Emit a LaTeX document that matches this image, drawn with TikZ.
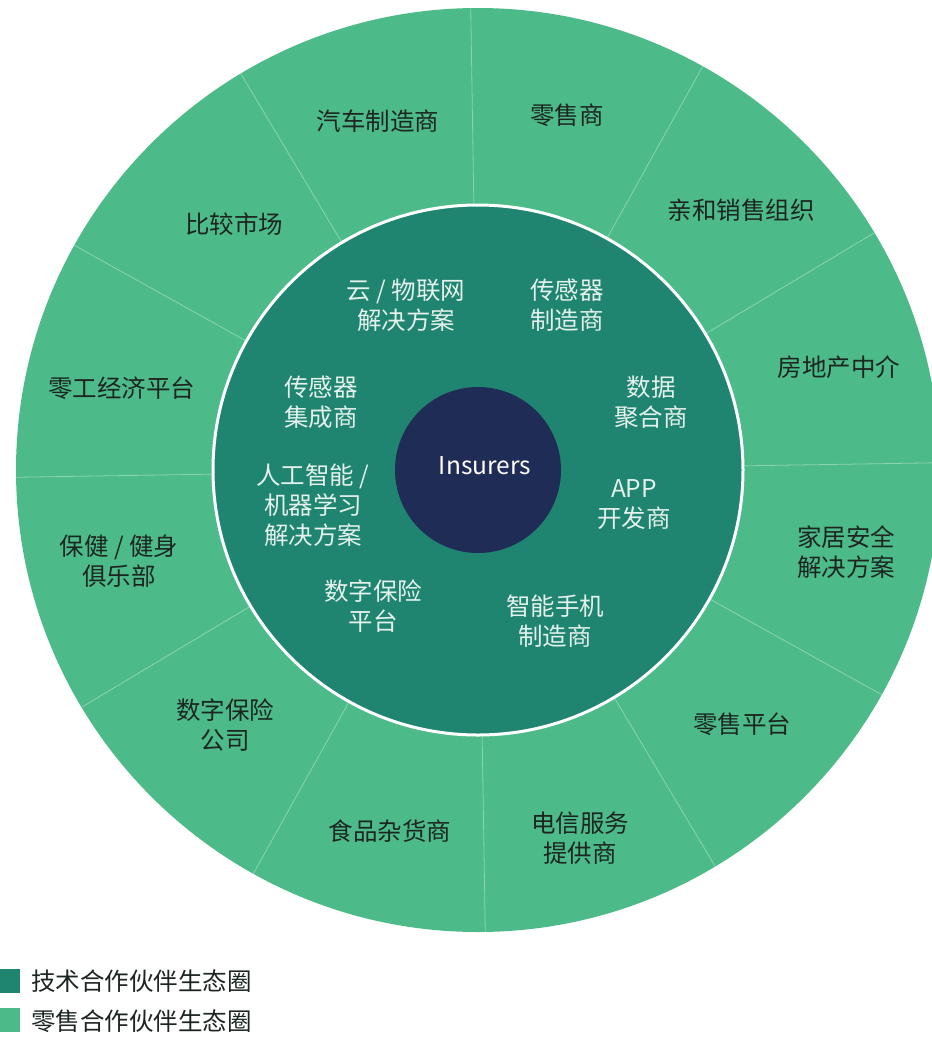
\documentclass[tikz,border=0pt]{standalone}
\usepackage{fontspec}
\setmainfont{Noto Sans CJK SC}
\definecolor{outerg}{HTML}{4CBB89}
\definecolor{innert}{HTML}{1F8570}
\definecolor{navyc}{HTML}{1F2C55}
\definecolor{darktxt}{HTML}{1C2520}
\definecolor{lighttxt}{HTML}{E4F1EC}
\begin{document}
\begin{tikzpicture}[x=1pt,y=-1pt,
  lab/.style={font=\fontsize{24.5}{30}\selectfont, align=center, inner sep=0pt},
  outerlab/.style={lab, text=darktxt},
  innerlab/.style={lab, text=lighttxt},
  divider/.style={draw=white, draw opacity=0.35, line width=0.8pt},
  legbox/.style={minimum width=20pt, minimum height=24pt, inner sep=0pt, anchor=north west}]
\useasboundingbox (0,0) rectangle (932,1037);
\clip (0,0) rectangle (932,1037);
\coordinate (c) at (478,470);
% outer ring
\fill[outerg] (c) circle[radius=462];
\foreach \a in {-0.9,29.1,59.1,89.1,119.1,149.1,179.1,209.1,239.1,269.1,299.1,329.1}
  \draw[divider] ([shift={(\a:250)}]c) -- ([shift={(\a:462)}]c);
% inner ring
\fill[innert] (c) circle[radius=265];
\draw[white, line width=3pt] (c) circle[radius=265];
% centre
\fill[navyc] (c) circle[radius=83];
\node[lab, text=white] (ins) at (485,466) {Insurers};
% outer labels
\node[outerlab] (o1) at (378,121) {汽车制造商};
\node[outerlab] (o2) at (567,115) {零售商};
\node[outerlab] (o3) at (741,210) {亲和销售组织};
\node[outerlab] (o4) at (839,367) {房地产中介};
\node[outerlab] (o5) at (846,552) {家居安全\\解决方案};
\node[outerlab] (o6) at (742,724) {零售平台};
\node[outerlab] (o7) at (580,838) {电信服务\\提供商};
\node[outerlab] (o8) at (390,831) {食品杂货商};
\node[outerlab] (o9) at (225,725) {数字保险\\公司};
\node[outerlab] (o10) at (119,561) {保健 / 健身\\俱乐部};
\node[outerlab] (o11) at (122,388) {零工经济平台};
\node[outerlab] (o12) at (234,224) {比较市场};
% inner labels
\node[innerlab] (i1) at (406,305) {云 / 物联网\\解决方案};
\node[innerlab] (i2) at (567,305) {传感器\\制造商};
\node[innerlab] (i3) at (321,402) {传感器\\集成商};
\node[innerlab] (i4) at (651,402) {数据\\聚合商};
\node[innerlab] (i5) at (313,505) {人工智能 /\\机器学习\\解决方案};
\node[innerlab] (i6) at (634,505) {APP\\开发商};
\node[innerlab] (i7) at (373,606) {数字保险\\平台};
\node[innerlab] (i8) at (555,621) {智能手机\\制造商};
% legend
\node[legbox, fill=innert] (k1) at (0,969) {};
\node[legbox, fill=outerg] (k2) at (0,1008) {};
\node[lab, anchor=west, text=darktxt] (t1) at (31,981) {技术合作伙伴生态圈};
\node[lab, anchor=west, text=darktxt] (t2) at (31,1021) {零售合作伙伴生态圈};
\end{tikzpicture}
\end{document}
